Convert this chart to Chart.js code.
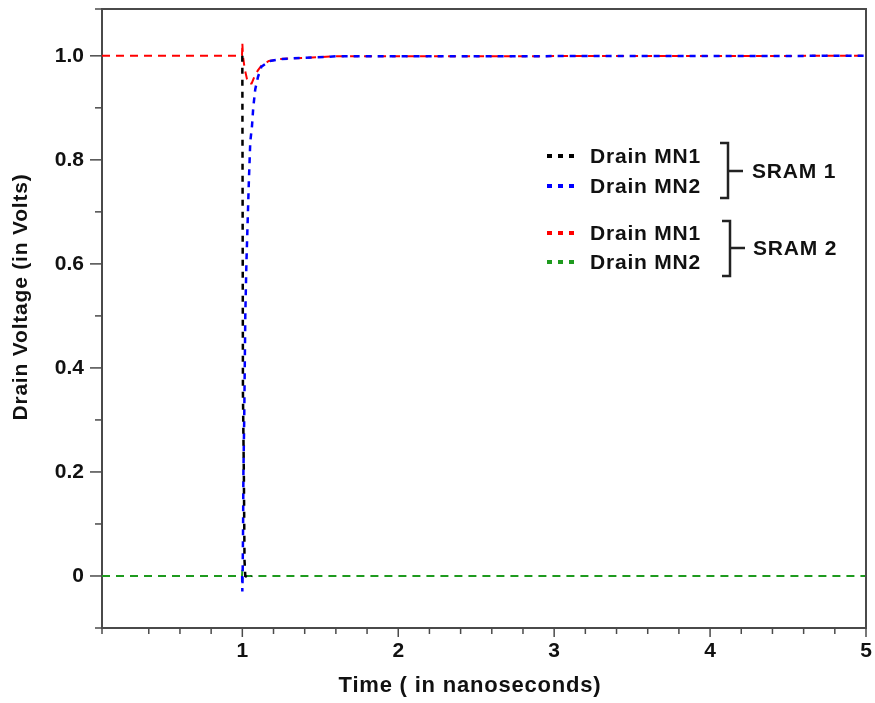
<!DOCTYPE html>
<html>
<head>
<meta charset="utf-8">
<script src="https://cdn.jsdelivr.net/npm/chart.js@4"></script>
<style>
  html, body { margin: 0; padding: 0; background: #fff; }
</style>
</head>
<body>
<canvas id="chart" width="875" height="703"></canvas>
<script>
// time in ns, drain voltage in V
const sram1Mn1Time = [1.0, 1.002, 1.004, 1.01, 1.014, 1.019, 1.03, 1.045, 1.06];
const sram1Mn1Volt = [1.0, 0.7, 0.35, 0.19, 0.03, 0.0, -0.002, -0.005, 0.0];

const sram1Mn2Time = [0.999, 1.0, 1.002, 1.005, 1.007, 1.012, 1.019, 1.026, 1.032, 1.042, 1.051, 1.062, 1.07, 1.083, 1.1, 1.122, 1.173, 1.25, 1.6, 5];
const sram1Mn2Volt = [0.0, -0.03, 0.0, 0.1, 0.2, 0.3, 0.5, 0.6, 0.66, 0.76, 0.835, 0.865, 0.9, 0.936, 0.959, 0.979, 0.99, 0.994, 0.999, 1.0];

const sram2Mn1Time = [0.1, 0.998, 1.0, 1.004, 1.015, 1.03, 1.045, 1.06, 1.08, 1.1, 1.122, 1.17, 1.25, 1.6, 5];
const sram2Mn1Volt = [1.0, 1.0, 1.025, 1.0, 0.975, 0.955, 0.946, 0.947, 0.962, 0.972, 0.981, 0.99, 0.994, 0.999, 1.0];

const sram2Mn2Time = [0.1, 0.998, 1.0, 1.004, 1.01, 5];
const sram2Mn2Volt = [0.0, 0.0, 0.012, 0.0, 0.0, 0.0];

const seriesLabels = ["Drain MN1", "Drain MN2", "Drain MN1", "Drain MN2"];
const groupLabels = ["SRAM 1", "SRAM 2"];
const xTitle = "Time ( in nanoseconds)";
const yTitle = "Drain Voltage (in Volts)";

const FONT = "'Liberation Sans', Arial, sans-serif";
const INK = "#111";
const AXIS = "#4a4a4a";

function toPoints(t, v) {
  return t.map((x, i) => ({ x: x, y: v[i] }));
}

function isWhole(v, step) {
  const k = v / step;
  return Math.abs(k - Math.round(k)) < 1e-6;
}

// axis frame, tick marks, titles and the bracketed legend
const decor = {
  id: "decor",
  afterDraw(chart) {
    const ctx = chart.ctx;
    const a = chart.chartArea;
    const xs = chart.scales.x;
    const ys = chart.scales.y;
    ctx.save();

    // top and right frame
    ctx.strokeStyle = AXIS;
    ctx.lineWidth = 2;
    ctx.beginPath();
    ctx.moveTo(a.left, a.top);
    ctx.lineTo(a.right, a.top);
    ctx.lineTo(a.right, a.bottom);
    ctx.stroke();

    // tick marks
    ctx.lineWidth = 1.5;
    xs.ticks.forEach((t) => {
      const px = xs.getPixelForValue(t.value);
      const len = isWhole(t.value, 1) ? 9 : 6;
      ctx.beginPath();
      ctx.moveTo(px, a.bottom);
      ctx.lineTo(px, a.bottom + len);
      ctx.stroke();
    });
    ys.ticks.forEach((t) => {
      const py = ys.getPixelForValue(t.value);
      const len = isWhole(t.value, 0.2) ? 12 : 7;
      ctx.beginPath();
      ctx.moveTo(a.left, py);
      ctx.lineTo(a.left - len, py);
      ctx.stroke();
    });

    // axis titles
    ctx.fillStyle = INK;
    ctx.textBaseline = "middle";
    ctx.textAlign = "center";
    ctx.letterSpacing = "0.8px";
    ctx.font = "bold 22px " + FONT;
    ctx.fillText(xTitle, 470, 686);
    ctx.save();
    ctx.translate(21, 297);
    ctx.rotate(-Math.PI / 2);
    ctx.font = "bold 21px " + FONT;
    ctx.fillText(yTitle, 0, 0);
    ctx.restore();

    // legend rows
    const rowY = [156, 186, 233, 262];
    ctx.textAlign = "left";
    ctx.font = "bold 21px " + FONT;
    chart.data.datasets.forEach((ds, i) => {
      ctx.strokeStyle = ds.borderColor;
      ctx.lineWidth = 4;
      ctx.setLineDash([5, 6]);
      ctx.beginPath();
      ctx.moveTo(547, rowY[i]);
      ctx.lineTo(578, rowY[i]);
      ctx.stroke();
      ctx.setLineDash([]);
      ctx.fillStyle = INK;
      ctx.fillText(seriesLabels[i], 590, rowY[i] + 1);
    });

    // brackets
    const brackets = [
      { x: 728, top: 143, bottom: 198, mid: 171, tip: 743, tx: 752 },
      { x: 730, top: 221, bottom: 276, mid: 248, tip: 745, tx: 753 },
    ];
    ctx.strokeStyle = "#222";
    ctx.lineWidth = 2.5;
    brackets.forEach((b, i) => {
      ctx.beginPath();
      ctx.moveTo(b.x - 8, b.top);
      ctx.lineTo(b.x, b.top);
      ctx.lineTo(b.x, b.bottom);
      ctx.lineTo(b.x - 8, b.bottom);
      ctx.moveTo(b.x, b.mid);
      ctx.lineTo(b.tip, b.mid);
      ctx.stroke();
      ctx.fillText(groupLabels[i], b.tx, b.mid + 1);
    });

    ctx.restore();
  },
};

const chart = document.getElementById("chart").getContext("2d");

new Chart(chart, {
  type: "line",
  data: {
    datasets: [
      {
        label: "SRAM 1 " + seriesLabels[0],
        data: toPoints(sram1Mn1Time, sram1Mn1Volt),
        borderColor: "#000000",
        borderWidth: 2.5,
        borderDash: [6, 6],
      },
      {
        label: "SRAM 1 " + seriesLabels[1],
        data: toPoints(sram1Mn2Time, sram1Mn2Volt),
        borderColor: "#0000ff",
        borderWidth: 2.5,
        borderDash: [6, 6],
      },
      {
        label: "SRAM 2 " + seriesLabels[2],
        data: toPoints(sram2Mn1Time, sram2Mn1Volt),
        borderColor: "#ff0000",
        borderWidth: 2,
        borderDash: [8, 6],
      },
      {
        label: "SRAM 2 " + seriesLabels[3],
        data: toPoints(sram2Mn2Time, sram2Mn2Volt),
        borderColor: "#1e9a1e",
        borderWidth: 2,
        borderDash: [8, 6],
      },
    ],
  },
  options: {
    responsive: false,
    animation: false,
    tension: 0,
    pointRadius: 0,
    layout: { padding: { top: 9, right: 9, left: 0, bottom: 0 } },
    plugins: { legend: { display: false }, tooltip: { enabled: false } },
    scales: {
      x: {
        type: "linear",
        min: 0.1,
        max: 5,
        grid: { display: false, drawTicks: false },
        border: { display: true, color: AXIS, width: 2 },
        ticks: {
          stepSize: 0.2,
          autoSkip: false,
          maxRotation: 0,
          padding: 11,
          color: INK,
          font: { family: FONT, size: 21, weight: "bold" },
          callback: (v) => (isWhole(v, 1) && v >= 1 ? String(Math.round(v)) : ""),
        },
        afterFit: (s) => {
          s.height = 75;
          s.paddingLeft = 0;
          s.paddingRight = 0;
        },
      },
      y: {
        min: -0.1,
        max: 1.09,
        grid: { display: false, drawTicks: false },
        border: { display: true, color: AXIS, width: 2 },
        ticks: {
          stepSize: 0.1,
          autoSkip: false,
          padding: 18,
          color: INK,
          font: { family: FONT, size: 21, weight: "bold" },
          callback: (v) => {
            const k = Math.round(v * 10);
            if (!isWhole(v, 0.1) || k < 0 || k % 2 !== 0) return "";
            return k === 0 ? "0" : (k / 10).toFixed(1);
          },
        },
        afterFit: (s) => {
          s.width = 102;
          s.paddingTop = 0;
          s.paddingBottom = 0;
        },
      },
    },
  },
  plugins: [decor],
});
</script>
</body>
</html>
